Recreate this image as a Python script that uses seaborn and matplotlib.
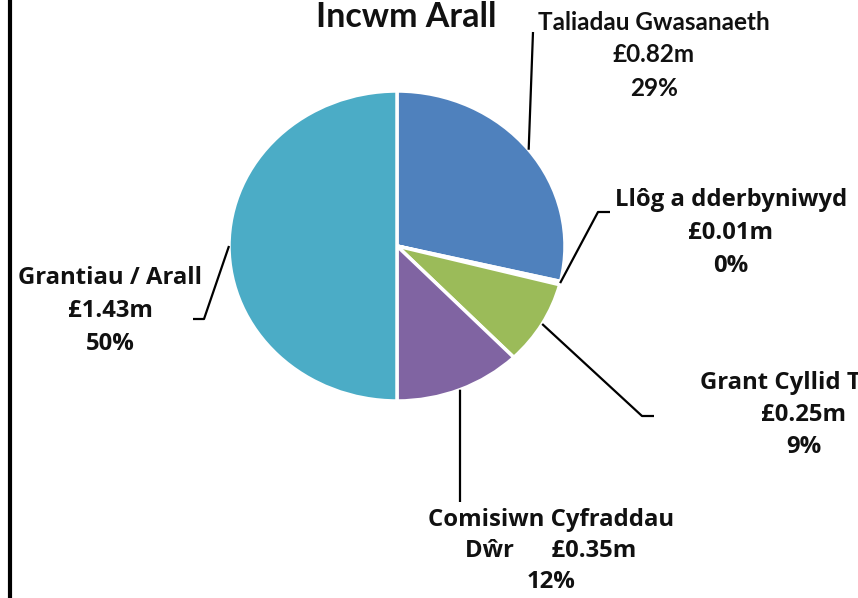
import numpy as np
import matplotlib.pyplot as plt
import seaborn as sns

# data
categories = ["Taliadau Gwasanaeth", "Llôg a dderbyniwyd", "Grant Cyllid Tai",
              "Comisiwn Cyfraddau", "Grantiau / Arall"]
values = [0.82, 0.01, 0.25, 0.35, 1.43]
percent_labels = ["29%", "0%", "9%", "12%", "50%"]
colors = ["#4F81BD", "#C0504D", "#9BBB59", "#8064A2", "#4BACC6"]

W, H = 858, 598
cx, cy = 397, 246        # pie centre in pixels
rx, ry = 168, 155        # horizontal / vertical radius in pixels

sns.set_theme(style="white")
plt.rcParams["font.family"] = ["Lato", "DejaVu Sans"]

fig = plt.figure(figsize=(W / 100, H / 100), dpi=100)
ax = fig.add_axes([0, 0, 1, 1])

wedges, _ = ax.pie(values, colors=sns.color_palette(colors), startangle=90,
                   counterclock=False, radius=1, center=(0, 0),
                   wedgeprops=dict(edgecolor="white", linewidth=2.5))

# pie forces equal aspect; undo it so the pie is drawn in pixel proportions
ax.set_aspect("auto")
ax.set_xlim(-cx / rx, (W - cx) / rx)
ax.set_ylim(-(H - cy) / ry, cy / ry)
ax.axis("off")


def px(x, y):
    # pixel position -> data coords
    return (x - cx) / rx, (cy - y) / ry


# label layout: centre x, first line y, line pitch (px), font, size
label_pos = [(654, 22, 33, "Lato", 17.5),
             (731, 200, 33, "Open Sans", 17.2),
             (804, 383, 32, "Open Sans", 17.2),
             (551, 520, 31, "Open Sans", 17.2),
             (110, 278, 33, "Open Sans", 17.2)]
elbows = [(533, 32), (598, 212), (642, 416), (460, 502), (204, 319)]
tails = [None, (610, 212), (654, 416), None, (193, 319)]

for i, w in enumerate(wedges):
    mid = np.deg2rad((w.theta1 + w.theta2) / 2)
    sx, sy = np.cos(mid), np.sin(mid)
    ex, ey = px(*elbows[i])
    xs, ys = [sx, ex], [sy, ey]
    if tails[i] is not None:
        tx, ty = px(*tails[i])
        xs.append(tx)
        ys.append(ty)
    ax.plot(xs, ys, color="black", lw=1.6, solid_capstyle="butt")

    money = f"£{values[i]:.2f}m"
    if i == 3:
        lines = [categories[i], "Dŵr      " + money, percent_labels[i]]
    else:
        lines = [categories[i], money, percent_labels[i]]
    lx0, ly0, pitch, fam, fs = label_pos[i]
    for k, line in enumerate(lines):
        ha, lx = "center", lx0
        if i == 2 and k == 0:
            # long name runs off the right edge of the chart
            ha, lx = "left", 700
        x, y = px(lx, ly0 + k * pitch)
        ax.text(x, y, line, ha=ha, va="center", fontsize=fs,
                fontweight="bold", family=[fam, "DejaVu Sans"], color="#111111")

tx, ty = px(406, 17)
ax.text(tx, ty, "Incwm Arall", ha="center", va="center", fontsize=24.5,
        fontweight="bold", color="#111111")

# left border of the chart area
bx0, _ = px(10, 0)
ax.plot([bx0, bx0], [ax.get_ylim()[0], ax.get_ylim()[1]], color="black", lw=3)

fig.savefig("out.png", dpi=100)
